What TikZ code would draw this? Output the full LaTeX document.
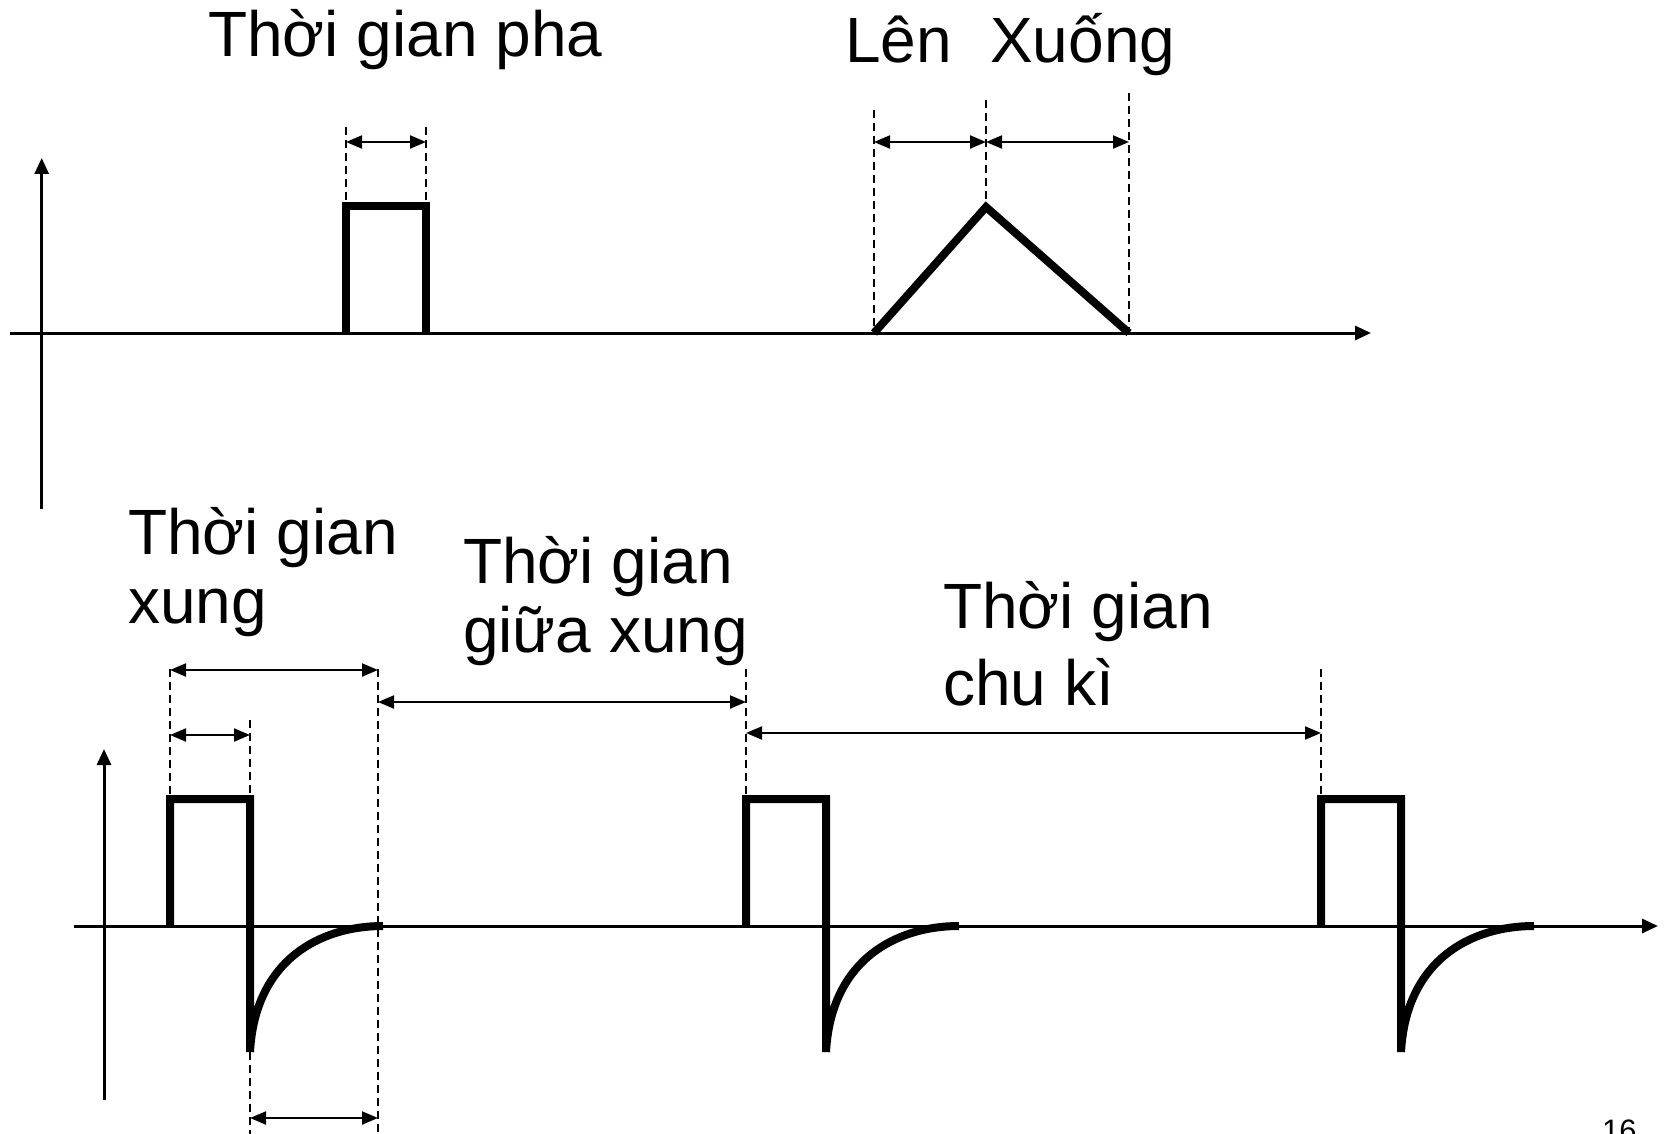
\documentclass[tikz,border=0pt]{standalone}
\usepackage{fontspec}
\setmainfont{Liberation Sans}
\usetikzlibrary{arrows.meta}
\begin{document}
\begin{tikzpicture}[x=1pt,y=-1pt,
  axisline/.style={line width=3pt,-{Triangle[length=16pt,width=14pt]}},
  wave/.style={line width=8pt,line join=miter,line cap=butt},
  guide/.style={line width=2pt,dash pattern=on 8pt off 5pt},
  span/.style={line width=2pt,{Triangle[length=16pt,width=13pt]}-{Triangle[length=16pt,width=13pt]}},
  caption/.style={anchor=base west,inner sep=0pt,align=left,font=\fontsize{64}{69}\selectfont}]
\useasboundingbox (0,0) rectangle (1666,1134);

% ---------- upper plot: axes ----------
\coordinate (ux0) at (10,333);
\coordinate (ux1) at (1371,333);
\coordinate (uy0) at (41.7,509);
\coordinate (uy1) at (41.7,158);
\draw[axisline] (ux0) -- (ux1);
\draw[axisline] (uy0) -- (uy1);

% rectangular phase
\coordinate (ph0) at (346,333);
\coordinate (ph1) at (346,206);
\coordinate (ph2) at (426,206);
\coordinate (ph3) at (426,333);
\draw[wave] (ph0) -- (ph1) -- (ph2) -- (ph3);
\coordinate (phg0) at (346,127);
\coordinate (phg1) at (426,127);
\draw[guide] (phg0) -- (ph1);
\draw[guide] (phg1) -- (ph2);
\coordinate (pha0) at (346,142);
\coordinate (pha1) at (426,142);
\draw[span] (pha0) -- (pha1);
\node[caption] (tpha) at (208,57) {Thời gian pha};

% triangular ramp
\coordinate (tr0) at (874,333);
\coordinate (tr1) at (986,207);
\coordinate (tr2) at (1129,333);
\draw[wave] (tr0) -- (tr1) -- (tr2);
\coordinate (trg0) at (874,110);
\coordinate (trg1) at (986,100);
\coordinate (trg2) at (1129,93);
\draw[guide] (trg0) -- (tr0);
\draw[guide] (trg1) -- (tr1);
\draw[guide] (trg2) -- (tr2);
\coordinate (tra0) at (874,142);
\coordinate (tra1) at (986,142);
\coordinate (tra2) at (1129,142);
\draw[span] (tra0) -- (tra1);
\draw[span] (tra1) -- (tra2);
\node[caption] (tlen) at (845,63) {Lên};
\node[caption] (txuong) at (990,63) {Xuống};

% ---------- lower plot: axes ----------
\coordinate (lx0) at (74,926);
\coordinate (lx1) at (1658,926);
\coordinate (ly0) at (104,1100);
\coordinate (ly1) at (104,749);
\draw[axisline] (lx0) -- (lx1);
\draw[axisline] (ly0) -- (ly1);

% biphasic pulses
\foreach \n/\x in {a/170,b/746,c/1321}{
  \coordinate (s\n) at (\x,926);
  \coordinate (t\n) at (\x,799);
  \coordinate (u\n) at ({\x+80},799);
  \coordinate (v\n) at ({\x+80},1052);
  \coordinate (w\n) at ({\x+213},926);
  \coordinate (g\n) at (\x,669);
  \draw[wave] (s\n) -- (t\n) -- (u\n) -- (v\n)
    .. controls ({\x+85},960) and ({\x+150},926) .. (w\n);
  \draw[guide] (g\n) -- (t\n);
}

% extra guides of the first pulse
\coordinate (ga1) at (250,720);
\coordinate (ga2) at (250,1140);
\coordinate (ga3) at (378,669);
\coordinate (ga4) at (378,1140);
\draw[guide] (ga1) -- (ua);
\draw[guide] (va) -- (ga2);
\draw[guide] (ga3) -- (ga4);

% dimension arrows
\coordinate (d1a) at (170,670);
\coordinate (d1b) at (378,670);
\draw[span] (d1a) -- (d1b);
\coordinate (d2a) at (170,735);
\coordinate (d2b) at (250,735);
\draw[span] (d2a) -- (d2b);
\coordinate (d3a) at (250,1118);
\coordinate (d3b) at (378,1118);
\draw[span] (d3a) -- (d3b);
\coordinate (d4a) at (378,702);
\coordinate (d4b) at (746,702);
\draw[span] (d4a) -- (d4b);
\coordinate (d5a) at (746,733);
\coordinate (d5b) at (1321,733);
\draw[span] (d5a) -- (d5b);

% captions (anchored at the baseline of their last line)
\node[caption] (txung) at (128,623) {Thời gian\\xung};
\node[caption] (tgiua) at (463,652) {Thời gian\\giữa xung};
\node[caption,font=\fontsize{64}{77}\selectfont] (tchuki) at (943,705) {Thời gian\\chu kì};
\node[anchor=base west,inner sep=0pt,font=\fontsize{31}{36}\selectfont] (pageno) at (1602,1141) {16};
\end{tikzpicture}
\end{document}
